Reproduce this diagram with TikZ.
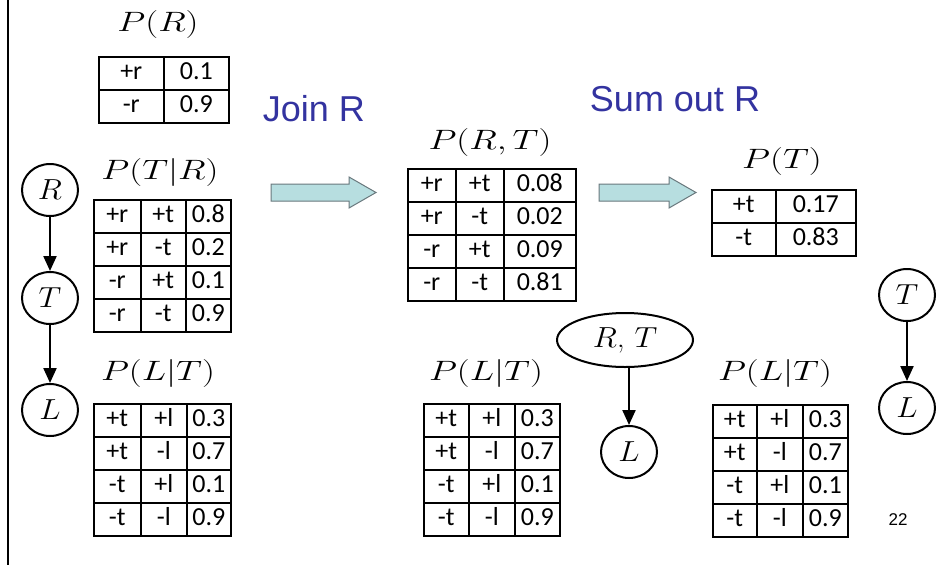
\RequirePackage{fix-cm}
\documentclass[tikz,border=0pt]{standalone}
\usepackage{fontspec}
\usepackage{graphicx}
\usetikzlibrary{matrix,shapes.geometric,arrows.meta}
\newfontfamily\cellfont{Carlito}
\newfontfamily\headfont{Liberation Sans}
\definecolor{titleblue}{RGB}{51,51,160}
\definecolor{arrowfill}{RGB}{183,222,224}
\definecolor{arrowedge}{RGB}{105,120,125}
% horizontally widened math labels
\newcommand\stretchx[2][1.3]{\scalebox{#1}[1]{#2}}

\begin{document}
\begin{tikzpicture}[x=1pt,y=-1pt,
  cell/.style={draw, line width=1.6pt, outer sep=0pt, inner sep=0pt,
    text height=18pt, text depth=6pt, minimum height=33pt, align=center,
    font=\fontsize{26}{28}\cellfont},
  cpt/.style={matrix of nodes, nodes={cell}, column sep=-1.6pt, row sep=-1.6pt,
    anchor=north west, inner sep=0pt, outer sep=0pt},
  cw1/.style={column 1/.style={nodes={text width=#1}}},
  cw2/.style={column 2/.style={nodes={text width=#1}}},
  cw3/.style={column 3/.style={nodes={text width=#1}}},
  mathlbl/.style={inner sep=0pt, font=\fontsize{28}{30}\selectfont},
  bnnode/.style={ellipse, draw, line width=2pt, minimum width=56pt,
    minimum height=52pt, inner sep=0pt, font=\fontsize{29}{31}\selectfont},
  edgearrow/.style={line width=2.2pt, -{Triangle[length=15pt,width=13pt]}},
  stepname/.style={font=\fontsize{36}{40}\headfont, text=titleblue, inner sep=0pt},
  blockarrow/.style={fill=arrowfill, draw=arrowedge, line width=1pt, line join=miter},
]
\useasboundingbox (0,0) rectangle (952,565);
\fill[white] (0,0) rectangle (952,565);

% left margin rule
\draw[line width=2.5pt] (8,0) -- (8,565);

% ---------- original network R -> T -> L ----------
\node[bnnode] (r1) at (50,190) {\stretchx[1.1]{$R$}};
\node[bnnode] (t1) at (50,298) {\stretchx[1.1]{$T$}};
\node[bnnode] (l1) at (50,410) {\stretchx[1.1]{$L$}};
\draw[edgearrow] (r1) -- (t1);
\draw[edgearrow] (t1) -- (l1);

% P(R)
\node[mathlbl] (lblR) at (158,24) {\stretchx{$P(R)$}};
\matrix[cpt, cw1=65pt, cw2=65pt] (tR) at (98,56) {
  +r & 0.1 \\
  -r & 0.9 \\
};

% P(T|R)
\node[mathlbl] (lblTR) at (160,172) {\stretchx{$P(T|R)$}};
\matrix[cpt, cw1=47pt, cw2=45pt, cw3=45pt] (tTR) at (93,199) {
  +r & +t & 0.8 \\
  +r & -t & 0.2 \\
  -r & +t & 0.1 \\
  -r & -t & 0.9 \\
};

% P(L|T), first copy
\node[mathlbl] (lblLT1) at (158,373) {\stretchx{$P(L|T)$}};
\matrix[cpt, cw1=47pt, cw2=46pt, cw3=44pt] (tLT1) at (93,403) {
  +t & +l & 0.3 \\
  +t & -l & 0.7 \\
  -t & +l & 0.1 \\
  -t & -l & 0.9 \\
};

% ---------- join step ----------
\node[stepname] (join) at (314,109) {Join R};
\draw[blockarrow] (271,184) -- (349,184) -- (349,177) -- (376,192.5)
  -- (349,208) -- (349,201) -- (271,201) -- cycle;

% P(R,T)
\node[mathlbl] (lblRT) at (490,142) {\stretchx{$P(R,T)$}};
\matrix[cpt, cw1=48pt, cw2=48pt, cw3=72pt] (tRT) at (407,168) {
  +r & +t & 0.08 \\
  +r & -t & 0.02 \\
  -r & +t & 0.09 \\
  -r & -t & 0.81 \\
};

% P(L|T), second copy
\node[mathlbl] (lblLT2) at (486,373) {\stretchx{$P(L|T)$}};
\matrix[cpt, cw1=45pt, cw2=46pt, cw3=45pt] (tLT2) at (423,403) {
  +t & +l & 0.3 \\
  +t & -l & 0.7 \\
  -t & +l & 0.1 \\
  -t & -l & 0.9 \\
};

% joined network (R,T) -> L
\node[bnnode, minimum width=136pt, minimum height=54pt] (rt2) at (625,340) {\stretchx[1.1]{$R$, $T$}};
\node[bnnode] (l2) at (629,452) {\stretchx[1.1]{$L$}};
\draw[edgearrow] (rt2.south -| l2) -- (l2);

% ---------- sum-out step ----------
\node[stepname] (sumout) at (675,99) {Sum out R};
\draw[blockarrow] (599,184) -- (669,184) -- (669,177) -- (696,192.5)
  -- (669,208) -- (669,201) -- (599,201) -- cycle;

% P(T)
\node[mathlbl] (lblT) at (782,161) {\stretchx{$P(T)$}};
\matrix[cpt, cw1=64pt, cw2=80pt] (tT) at (711,189) {
  +t & 0.17 \\
  -t & 0.83 \\
};

% P(L|T), third copy
\node[mathlbl] (lblLT3) at (775,373) {\stretchx{$P(L|T)$}};
\matrix[cpt, cw1=44pt, cw2=46pt, cw3=45pt] (tLT3) at (712,404) {
  +t & +l & 0.3 \\
  +t & -l & 0.7 \\
  -t & +l & 0.1 \\
  -t & -l & 0.9 \\
};

% reduced network T -> L
\node[bnnode] (t3) at (907,295) {\stretchx[1.1]{$T$}};
\node[bnnode] (l3) at (907,408) {\stretchx[1.1]{$L$}};
\draw[edgearrow] (t3) -- (l3);

% page number
\node[font=\fontsize{17}{19}\headfont, inner sep=0pt] (pageno) at (898,520) {22};
\end{tikzpicture}
\end{document}
